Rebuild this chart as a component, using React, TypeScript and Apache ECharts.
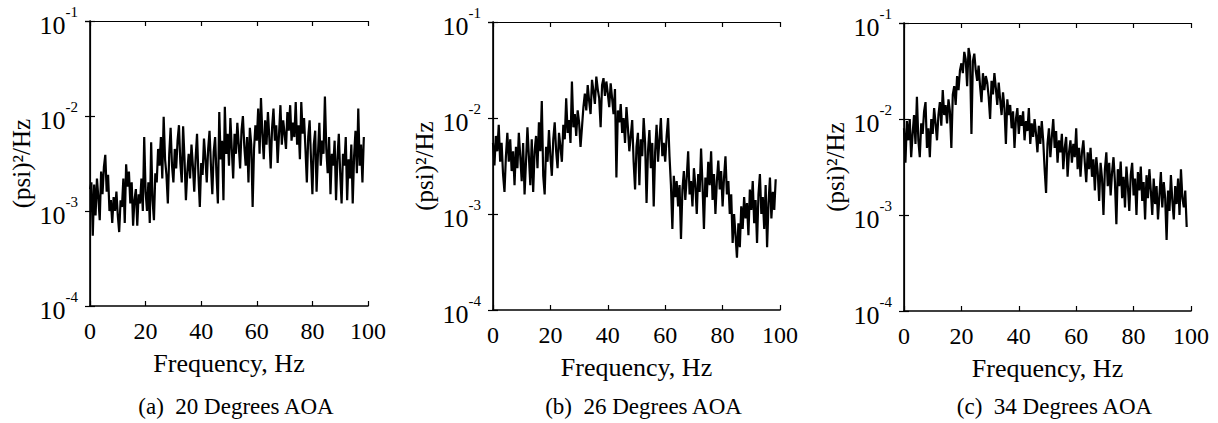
import React, { useEffect, useRef } from "react";
import * as echarts from "echarts";

// Frequency bins are evenly spaced (0, 0.5, 1.0 ... 98.5 Hz)
const FREQ_STEP = 0.5;

// (a) 20 degrees AOA, (psi)^2/Hz
const PSD_20 = [
  1.7e-3, 2.0e-3, 0.55e-3, 1.9e-3, 0.9e-3, 2.2e-3, 1.4e-3, 0.8e-3, 2.6e-3, 1.5e-3,
  2.9e-3, 3.9e-3, 1.6e-3, 2.4e-3, 1.0e-3, 1.3e-3, 0.75e-3, 1.4e-3, 1.0e-3, 1.6e-3,
  0.9e-3, 0.6e-3, 1.3e-3, 1.1e-3, 2.2e-3, 0.75e-3, 3.1e-3, 1.8e-3, 2.6e-3, 1.2e-3,
  2.0e-3, 0.7e-3, 1.3e-3, 1.7e-3, 0.7e-3, 1.5e-3, 1.2e-3, 2.2e-3, 1.0e-3, 6.0e-3,
  1.6e-3, 1.0e-3, 2.0e-3, 0.75e-3, 5.3e-3, 1.3e-3, 0.8e-3, 2.5e-3, 2.0e-3, 4.5e-3,
  3.0e-3, 6.0e-3, 2.2e-3, 9.8e-3, 3.5e-3, 2.4e-3, 1.2e-3, 4.0e-3, 7.5e-3, 3.0e-3,
  2.0e-3, 4.5e-3, 2.8e-3, 5.5e-3, 8.0e-3, 3.2e-3, 2.0e-3, 7.8e-3, 3.5e-3, 1.3e-3,
  2.6e-3, 4.0e-3, 2.2e-3, 5.0e-3, 3.0e-3, 1.6e-3, 3.6e-3, 6.5e-3, 2.4e-3, 1.1e-3,
  3.2e-3, 2.4e-3, 5.8e-3, 3.6e-3, 2.0e-3, 4.5e-3, 7.0e-3, 3.0e-3, 1.5e-3, 4.2e-3,
  6.0e-3, 2.4e-3, 1.2e-3, 11.0e-3, 3.5e-3, 5.5e-3, 1.3e-3, 12.5e-3, 4.0e-3, 6.5e-3,
  3.0e-3, 9.5e-3, 4.5e-3, 2.2e-3, 6.5e-3, 4.0e-3, 8.5e-3, 5.0e-3, 2.8e-3, 7.0e-3,
  10.0e-3, 4.8e-3, 3.0e-3, 6.0e-3, 2.0e-3, 7.5e-3, 5.0e-3, 1.1e-3, 4.5e-3, 8.0e-3,
  5.5e-3, 12.0e-3, 4.0e-3, 15.5e-3, 6.5e-3, 3.5e-3, 9.0e-3, 5.0e-3, 11.0e-3, 6.0e-3,
  2.8e-3, 7.5e-3, 12.0e-3, 5.5e-3, 8.0e-3, 3.2e-3, 6.5e-3, 13.0e-3, 5.0e-3, 9.0e-3,
  6.5e-3, 4.5e-3, 11.0e-3, 7.0e-3, 13.0e-3, 5.5e-3, 8.5e-3, 6.0e-3, 14.0e-3, 5.0e-3,
  8.0e-3, 3.5e-3, 14.0e-3, 6.5e-3, 9.5e-3, 4.5e-3, 2.0e-3, 6.0e-3, 9.0e-3, 3.5e-3,
  1.5e-3, 5.0e-3, 7.0e-3, 1.6e-3, 4.0e-3, 8.5e-3, 3.0e-3, 5.5e-3, 4.0e-3, 16.0e-3,
  4.5e-3, 2.5e-3, 6.0e-3, 1.5e-3, 4.0e-3, 3.0e-3, 5.5e-3, 1.3e-3, 3.5e-3, 6.5e-3,
  2.5e-3, 1.2e-3, 4.0e-3, 3.0e-3, 6.0e-3, 1.3e-3, 3.5e-3, 2.2e-3, 5.0e-3, 1.2e-3,
  3.8e-3, 7.0e-3, 2.5e-3, 12.0e-3, 3.0e-3, 5.0e-3, 2.0e-3, 6.0e-3,
];

// (b) 26 degrees AOA
const PSD_26 = [
  5.5e-3, 3.2e-3, 6.5e-3, 4.5e-3, 8.5e-3, 3.5e-3, 5.5e-3, 2.6e-3, 1.7e-3, 4.0e-3,
  7.0e-3, 3.5e-3, 6.0e-3, 2.8e-3, 4.5e-3, 2.0e-3, 5.0e-3, 3.0e-3, 7.0e-3, 4.0e-3,
  2.2e-3, 5.5e-3, 1.6e-3, 3.5e-3, 8.0e-3, 4.0e-3, 2.0e-3, 6.0e-3, 1.7e-3, 4.5e-3,
  6.5e-3, 3.0e-3, 9.0e-3, 4.5e-3, 15.0e-3, 2.5e-3, 1.6e-3, 5.0e-3, 3.5e-3, 7.5e-3,
  4.0e-3, 2.5e-3, 6.0e-3, 9.0e-3, 4.5e-3, 3.0e-3, 7.0e-3, 5.0e-3, 3.5e-3, 8.5e-3,
  6.0e-3, 16.0e-3, 7.0e-3, 9.5e-3, 5.5e-3, 24.0e-3, 8.0e-3, 11.0e-3, 6.5e-3, 12.0e-3,
  9.0e-3, 5.0e-3, 8.0e-3, 13.0e-3, 18.0e-3, 12.0e-3, 22.0e-3, 15.0e-3, 11.0e-3, 25.0e-3,
  19.0e-3, 14.0e-3, 27.0e-3, 20.0e-3, 16.0e-3, 8.0e-3, 22.0e-3, 26.0e-3, 17.0e-3, 24.0e-3,
  18.0e-3, 13.0e-3, 23.0e-3, 16.0e-3, 11.0e-3, 20.0e-3, 2.4e-3, 12.0e-3, 9.0e-3, 14.0e-3,
  7.0e-3, 10.0e-3, 5.5e-3, 13.0e-3, 8.0e-3, 4.5e-3, 6.5e-3, 9.5e-3, 3.5e-3, 1.8e-3,
  5.0e-3, 7.0e-3, 2.0e-3, 6.0e-3, 4.0e-3, 10.0e-3, 5.5e-3, 1.3e-3, 4.5e-3, 7.5e-3,
  3.0e-3, 5.5e-3, 1.2e-3, 4.5e-3, 8.5e-3, 3.5e-3, 6.0e-3, 10.0e-3, 4.0e-3, 5.5e-3,
  3.5e-3, 6.5e-3, 10.0e-3, 4.0e-3, 2.0e-3, 0.7e-3, 2.5e-3, 1.5e-3, 2.2e-3, 1.2e-3,
  2.0e-3, 0.55e-3, 1.8e-3, 2.8e-3, 1.4e-3, 2.4e-3, 4.5e-3, 1.6e-3, 2.2e-3, 1.2e-3,
  3.0e-3, 2.0e-3, 1.0e-3, 2.6e-3, 1.7e-3, 4.8e-3, 2.0e-3, 0.7e-3, 2.4e-3, 1.5e-3,
  3.5e-3, 2.0e-3, 4.5e-3, 1.4e-3, 2.6e-3, 1.0e-3, 2.2e-3, 3.6e-3, 1.8e-3, 2.8e-3,
  1.2e-3, 2.4e-3, 4.0e-3, 1.6e-3, 2.2e-3, 1.0e-3, 1.6e-3, 0.5e-3, 1.0e-3, 0.6e-3,
  0.35e-3, 0.8e-3, 0.45e-3, 1.2e-3, 0.7e-3, 1.5e-3, 0.9e-3, 1.3e-3, 0.6e-3, 1.8e-3,
  1.1e-3, 2.2e-3, 0.8e-3, 1.4e-3, 0.5e-3, 1.6e-3, 2.6e-3, 1.0e-3, 1.5e-3, 0.7e-3,
  2.0e-3, 0.45e-3, 1.3e-3, 2.4e-3, 0.9e-3, 1.7e-3, 1.1e-3, 2.3e-3,
];

// (c) 34 degrees AOA
const PSD_34 = [
  8.0e-3, 3.5e-3, 9.5e-3, 6.0e-3, 10.0e-3, 4.0e-3, 7.0e-3, 11.0e-3, 5.5e-3, 17.0e-3,
  6.0e-3, 4.0e-3, 9.0e-3, 7.0e-3, 12.0e-3, 15.0e-3, 5.0e-3, 8.0e-3, 4.0e-3, 10.0e-3,
  7.0e-3, 13.0e-3, 9.0e-3, 6.0e-3, 11.0e-3, 15.0e-3, 8.5e-3, 20.0e-3, 11.0e-3, 14.0e-3,
  9.0e-3, 16.0e-3, 12.0e-3, 5.0e-3, 18.0e-3, 22.0e-3, 14.0e-3, 28.0e-3, 20.0e-3, 32.0e-3,
  38.0e-3, 30.0e-3, 50.0e-3, 42.0e-3, 22.0e-3, 55.0e-3, 45.0e-3, 7.0e-3, 40.0e-3, 48.0e-3,
  32.0e-3, 25.0e-3, 36.0e-3, 22.0e-3, 15.0e-3, 30.0e-3, 20.0e-3, 28.0e-3, 24.0e-3, 17.0e-3,
  10.0e-3, 25.0e-3, 18.0e-3, 30.0e-3, 21.0e-3, 14.0e-3, 24.0e-3, 16.0e-3, 11.0e-3, 19.0e-3,
  13.0e-3, 5.5e-3, 16.0e-3, 11.0e-3, 14.0e-3, 8.0e-3, 12.0e-3, 5.0e-3, 10.0e-3, 13.0e-3,
  7.0e-3, 11.0e-3, 8.5e-3, 12.0e-3, 6.0e-3, 9.5e-3, 7.5e-3, 13.0e-3, 5.5e-3, 9.0e-3,
  6.5e-3, 10.0e-3, 7.0e-3, 4.5e-3, 8.5e-3, 5.5e-3, 9.5e-3, 6.0e-3, 3.0e-3, 1.7e-3,
  5.5e-3, 8.0e-3, 4.0e-3, 6.5e-3, 10.0e-3, 5.0e-3, 7.5e-3, 3.5e-3, 6.0e-3, 4.5e-3,
  7.0e-3, 3.0e-3, 5.0e-3, 6.5e-3, 2.5e-3, 4.5e-3, 6.0e-3, 3.5e-3, 5.5e-3, 4.0e-3,
  8.0e-3, 3.0e-3, 5.0e-3, 2.5e-3, 4.5e-3, 6.0e-3, 3.5e-3, 2.2e-3, 4.5e-3, 3.0e-3,
  5.0e-3, 2.5e-3, 3.8e-3, 1.8e-3, 4.0e-3, 2.8e-3, 1.4e-3, 3.5e-3, 2.4e-3, 1.0e-3,
  3.0e-3, 4.5e-3, 2.0e-3, 3.5e-3, 1.6e-3, 2.8e-3, 4.0e-3, 2.2e-3, 0.8e-3, 3.0e-3,
  2.0e-3, 3.6e-3, 1.5e-3, 2.5e-3, 1.2e-3, 3.2e-3, 2.0e-3, 1.1e-3, 2.6e-3, 3.5e-3,
  1.6e-3, 2.4e-3, 1.0e-3, 2.8e-3, 1.8e-3, 3.2e-3, 1.4e-3, 2.2e-3, 0.9e-3, 2.6e-3,
  1.5e-3, 3.0e-3, 1.8e-3, 1.0e-3, 2.4e-3, 1.3e-3, 2.0e-3, 0.9e-3, 1.6e-3, 2.8e-3,
  1.2e-3, 2.2e-3, 1.5e-3, 0.55e-3, 1.8e-3, 1.1e-3, 2.6e-3, 1.4e-3, 0.9e-3, 2.0e-3,
  1.3e-3, 2.4e-3, 1.0e-3, 3.0e-3, 1.5e-3, 1.2e-3, 1.8e-3, 0.75e-3,
];

const SERIES = [PSD_20, PSD_26, PSD_34];
const CAPTIONS = ["(a)  20 Degrees AOA", "(b)  26 Degrees AOA", "(c)  34 Degrees AOA"];
const X_NAME = "Frequency, Hz";
const Y_NAME = "(psi)\u00B2/Hz";
const X_MIN = 0;
const X_MAX = 100;
const X_INTERVAL = 20;
const Y_MIN = 1e-4;
const Y_MAX = 1e-1;

const GRIDS = [
  { left: 90, top: 21, width: 278, height: 285 },
  { left: 493, top: 22, width: 287, height: 288 },
  { left: 904, top: 23, width: 287, height: 288 },
];

const FONT = "'Liberation Serif', 'Times New Roman', serif";

export default function App() {
  const ref = useRef<HTMLDivElement>(null);

  useEffect(() => {
    if (!ref.current) return;
    const chart = echarts.init(ref.current, undefined, { renderer: "svg" });

    const axisLine = { show: true, lineStyle: { color: "#000", width: 1.6 } };
    const axisTick = { show: true, inside: true, length: 5, lineStyle: { color: "#000", width: 1.2 } };

    const xAxis: any[] = [];
    const yAxis: any[] = [];
    const series: any[] = [];
    const graphic: any[] = [];

    GRIDS.forEach((g, i) => {
      xAxis.push({
        type: "value",
        gridIndex: i,
        min: X_MIN,
        max: X_MAX,
        interval: X_INTERVAL,
        position: "bottom",
        axisLine,
        axisTick,
        splitLine: { show: false },
        axisLabel: { color: "#000", fontFamily: FONT, fontSize: 24, margin: 13 },
        name: X_NAME,
        nameLocation: "middle",
        nameGap: 44,
        nameTextStyle: { color: "#000", fontFamily: FONT, fontSize: 26 },
      });
      xAxis.push({
        type: "value",
        gridIndex: i,
        min: X_MIN,
        max: X_MAX,
        interval: X_INTERVAL,
        position: "top",
        axisLine: { show: true, lineStyle: { color: "#000", width: 1.2 } },
        axisTick,
        axisLabel: { show: false },
        splitLine: { show: false },
      });
      yAxis.push({
        type: "log",
        logBase: 10,
        gridIndex: i,
        min: Y_MIN,
        max: Y_MAX,
        position: "left",
        axisLine,
        axisTick,
        splitLine: { show: false },
        axisLabel: {
          margin: 12,
          formatter: (v: number) => `{b|10}{s|${Math.round(Math.log10(v))}}`,
          rich: {
            b: { fontFamily: FONT, fontSize: 26, color: "#000", padding: [8, 0, 0, 0] },
            s: { fontFamily: FONT, fontSize: 15, color: "#000", verticalAlign: "top" },
          },
        },
        name: Y_NAME,
        nameLocation: "middle",
        nameRotate: 90,
        nameGap: 56,
        nameTextStyle: { color: "#000", fontFamily: FONT, fontSize: 25 },
      });
      yAxis.push({
        type: "log",
        logBase: 10,
        gridIndex: i,
        min: Y_MIN,
        max: Y_MAX,
        position: "right",
        axisLine: { show: true, lineStyle: { color: "#000", width: 1.2 } },
        axisTick,
        axisLabel: { show: false },
        splitLine: { show: false },
      });
      series.push({
        type: "line",
        xAxisIndex: i * 2,
        yAxisIndex: i * 2,
        data: SERIES[i].map((v, k) => [k * FREQ_STEP, v]),
        symbol: "none",
        lineStyle: { color: "#000", width: 2.2, join: "miter" },
        silent: true,
      });
      graphic.push({
        type: "text",
        x: g.left + g.width / 2 + 7,
        y: 406,
        style: {
          text: CAPTIONS[i],
          fill: "#000",
          font: `23px ${FONT}`,
          textAlign: "center",
          textVerticalAlign: "middle",
        },
      });
    });

    chart.setOption({
      animation: false,
      backgroundColor: "#fff",
      grid: GRIDS.map((g) => ({ ...g, containLabel: false })),
      xAxis,
      yAxis,
      series,
      graphic,
    });

    return () => chart.dispose();
  }, []);

  return (
    <div
      ref={ref}
      style={{ position: "absolute", left: 0, top: 0, width: 1218, height: 423, background: "#fff" }}
    />
  );
}
